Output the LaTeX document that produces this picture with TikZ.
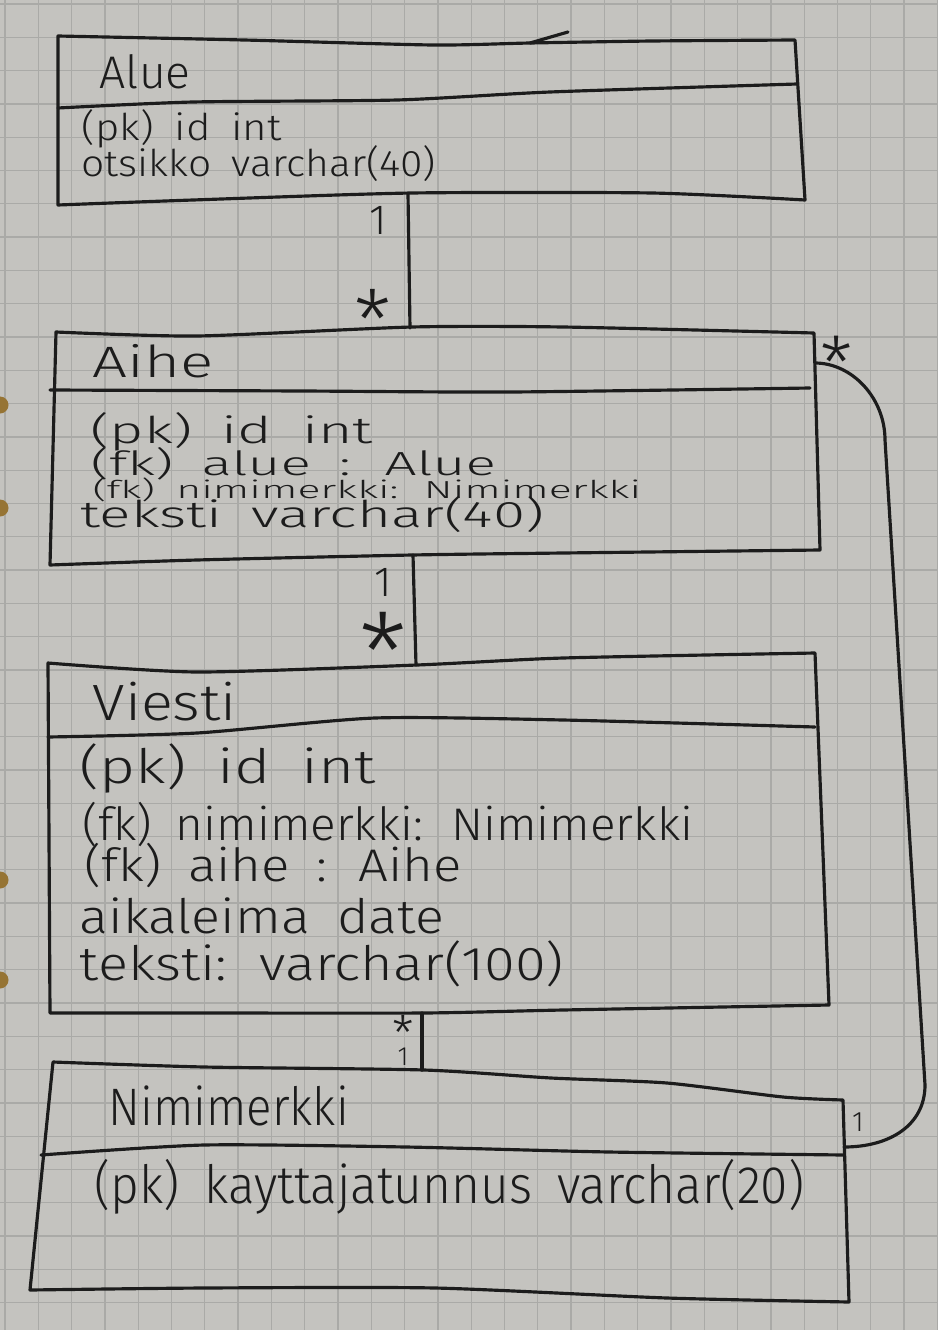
\documentclass[tikz,border=0pt]{standalone}
\usepackage{fontspec}
\setmainfont{Fira Sans Light}
\usepackage{graphicx}

\definecolor{paper}{RGB}{196,195,191}
\definecolor{gridline}{RGB}{170,170,167}
\definecolor{ink}{RGB}{28,28,28}
\definecolor{hole}{RGB}{150,116,52}

% font size helper and a line of text stretched to a given width
\newcommand\fsz[1]{\fontsize{#1}{#1}\selectfont}
\newcommand\hw[2]{\resizebox{#1}{\height}{\spaceskip=0.5em\relax #2}}
% asterisk with its ink centred on the node centre
\newcommand\astk{\raisebox{-0.54em}[0pt][0pt]{*}}

\begin{document}
\begin{tikzpicture}[x=0.01cm, y=-0.01cm,
  pen/.style={draw=ink, line width=0.9pt, line cap=round, line join=round},
  txt/.style={anchor=base west, inner sep=0pt, text=ink},
  mult/.style={inner sep=0pt, text=ink},
  gridrule/.style={draw=gridline, line width=0.35pt}]

% squared paper
\fill[paper] (0,0) rectangle (938,1330);
\useasboundingbox (0,0) rectangle (938,1330);
\foreach \i in {0,...,28} \draw[gridrule] ({5+33.3*\i},0) -- ({5+33.3*\i},1330);
\foreach \j in {0,...,40} \draw[gridrule] (0,{4+33.3*\j}) -- (938,{4+33.3*\j});
\foreach \h in {405,508,880,980} \fill[hole] (0,\h) circle[radius=0.085cm];

% ---------- Alue ----------
\draw[pen] plot[smooth, tension=0.4] coordinates {(58,36) (244,40) (433,45) (530,43) (652,41) (795,40)}
  -- plot[smooth, tension=0.4] coordinates {(805,200) (652,193) (412,193) (193,200) (58,205)} -- cycle;
\draw[pen] plot[smooth, tension=0.4] coordinates {(58,108) (193,102) (397,100) (550,92) (797,84)};
\draw[pen] (530,43) -- (568,32);
\coordinate (alue-s) at (408,194);
\node[txt, font=\fsz{13}] (alue-title) at (99,88) {\hw{0.91cm}{Alue}};
\node[txt, font=\fsz{10.5}] (alue-a1) at (81,140) {\hw{2.00cm}{(pk) id int}};
\node[txt, font=\fsz{10.5}] (alue-a2) at (81,176) {\hw{3.54cm}{otsikko varchar(40)}};

% ---------- Aihe ----------
\draw[pen] plot[smooth, tension=0.4] coordinates {(56,332) (197,336) (412,327) (563,327) (814,333)}
  -- plot[smooth, tension=0.4] coordinates {(820,550) (563,553) (412,555) (197,560) (50,565)} -- cycle;
\draw[pen] plot[smooth, tension=0.4] coordinates {(50,390) (302,391) (511,392) (810,388)};
\coordinate (aihe-n) at (410,328);
\coordinate (aihe-s) at (413,555);
\coordinate (aihe-e) at (815,363);
\node[txt, font=\fsz{12.5}] (aihe-title) at (92,377) {\hw{1.21cm}{Aihe}};
\node[txt, font=\fsz{10.5}] (aihe-a1) at (90,443) {\hw{2.82cm}{(pk) id int}};
\node[txt, font=\fsz{9.5}] (aihe-a2) at (90,475) {\hw{4.05cm}{(fk) alue : Alue}};
\node[txt, font=\fsz{7}] (aihe-a3) at (92,498) {\hw{5.48cm}{(fk) nimimerkki: Nimimerkki}};
\node[txt, font=\fsz{10.5}] (aihe-a4) at (80,527) {\hw{4.63cm}{teksti varchar(40)}};

% ---------- Viesti ----------
\draw[pen] plot[smooth, tension=0.4] coordinates {(48,663) (197,672) (417,665) (563,658) (815,653)}
  -- plot[smooth, tension=0.4] coordinates {(829,1005) (563,1010) (424,1013) (204,1013) (50,1013)} -- cycle;
\draw[pen] plot[smooth, tension=0.4] coordinates {(48,737) (197,733) (375,718) (563,720) (815,727)};
\coordinate (viesti-n) at (416,665);
\coordinate (viesti-s) at (422,1013);
\node[txt, font=\fsz{14.5}] (viesti-title) at (92,720) {\hw{1.44cm}{Viesti}};
\node[txt, font=\fsz{13.5}] (viesti-a1) at (79,783) {\hw{2.96cm}{(pk) id int}};
\node[txt, font=\fsz{13}] (viesti-a2) at (82,840) {\hw{6.10cm}{(fk) nimimerkki: Nimimerkki}};
\node[txt, font=\fsz{13}] (viesti-a3) at (84,881) {\hw{3.77cm}{(fk) aihe : Aihe}};
\node[txt, font=\fsz{13.5}] (viesti-a4) at (79,933) {\hw{3.64cm}{aikaleima date}};
\node[txt, font=\fsz{13.5}] (viesti-a5) at (79,980) {\hw{4.84cm}{teksti: varchar(100)}};

% ---------- Nimimerkki ----------
\draw[pen] plot[smooth, tension=0.4] coordinates {(53,1062) (204,1067) (424,1070) (551,1078) (667,1083) (783,1097) (843,1100)}
  -- plot[smooth, tension=0.4] coordinates {(849,1302) (667,1298) (435,1288) (204,1288) (30,1290)} -- cycle;
\draw[pen] plot[smooth, tension=0.4] coordinates {(41,1155) (204,1145) (406,1147) (609,1152) (844,1155)};
\coordinate (nimi-n) at (422,1070);
\coordinate (nimi-e) at (844,1147);
\node[txt, font=\fsz{15}] (nimi-title) at (108,1125) {\hw{2.40cm}{Nimimerkki}};
\node[txt, font=\fsz{15}] (nimi-a1) at (94,1203) {\hw{7.09cm}{(pk) kayttajatunnus varchar(20)}};

% ---------- associations ----------
\draw[pen] (alue-s) -- (aihe-n);
\draw[pen] (aihe-s) -- (viesti-n);
\draw[pen] (viesti-s) -- (nimi-n);
\draw[pen] (aihe-e) .. controls (852,363) and (885,398) .. (885,440)
  -- (925,1085) .. controls (925,1125) and (890,1147) .. (nimi-e);

% multiplicities
\node[mult, font=\fsz{12}] (m-alue) at (378,220) {1};
\node[mult, font=\fsz{24}] (m-aihe1) at (373,306) {\astk};
\node[mult, font=\fsz{12}] (m-aihe2) at (383,582) {1};
\node[mult, font=\fsz{31}] (m-viesti1) at (383,634) {\astk};
\node[mult, font=\fsz{14}] (m-viesti2) at (403,1025) {\astk};
\node[mult, font=\fsz{7.5}] (m-nimi1) at (403,1057) {1};
\node[mult, font=\fsz{21}] (m-aihe3) at (837,351) {\astk};
\node[mult, font=\fsz{8}] (m-nimi2) at (858,1122) {1};
\end{tikzpicture}
\end{document}
